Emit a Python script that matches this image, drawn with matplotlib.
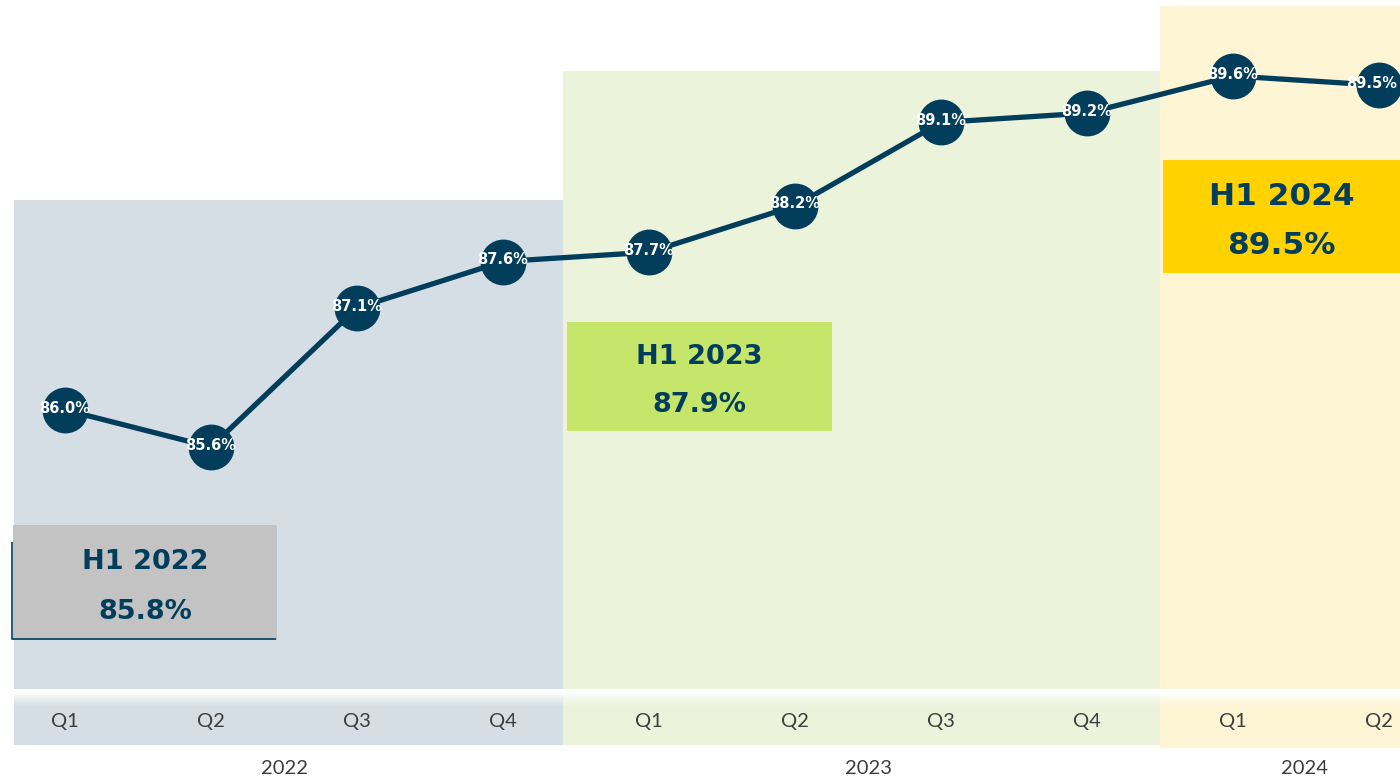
import numpy as np
import matplotlib.pyplot as plt
from matplotlib.patches import Rectangle
from matplotlib.colors import to_rgb

quarters = ["Q1", "Q2", "Q3", "Q4", "Q1", "Q2", "Q3", "Q4", "Q1", "Q2"]
rates = [86.0, 85.6, 87.1, 87.6, 87.7, 88.2, 89.1, 89.2, 89.6, 89.5]
years = ["2022", "2023", "2024"]
half_labels = ["H1 2022", "H1 2023", "H1 2024"]
half_values = [85.8, 87.9, 89.5]

NAVY = "#023e5c"
GREY_TXT = "#3d3d3d"
band_colors = ["#d5dee4", "#ebf3db", "#fef5d5"]
box_colors = ["#c3c3c3", "#c5e66a", "#ffd200"]

# pixel <-> data helpers (figure is 1400x779 px, one axes fills it)
X0, DX = 65.0, 146.0
Y0, V0, DY = 447.0, 85.6, 92.75


def px_x(p):
    return (p - X0) / DX


def px_y(p):
    return V0 + (Y0 - p) / DY


fig = plt.figure(figsize=(14, 7.79), dpi=100)
ax = fig.add_axes([0, 0, 1, 1])
ax.set_axis_off()

# year bands: (left px, right px, top px)
bands = [(14, 563, 200), (563, 1160, 71), (1160, 1400, 6)]
strip_bottom = [745, 745, 748]
plot_bottom = 689
strip_top = 703
for (l, r, t), sb, c in zip(bands, strip_bottom, band_colors):
    ax.add_patch(Rectangle((px_x(l), px_y(plot_bottom)), px_x(r) - px_x(l),
                           px_y(t) - px_y(plot_bottom), color=c, lw=0, zorder=0))
    ax.add_patch(Rectangle((px_x(l), px_y(sb)), px_x(r) - px_x(l),
                           px_y(strip_top) - px_y(sb), color=c, lw=0, zorder=0))
    # soft fade from the white gap into the strip
    rgb = np.array(to_rgb(c))
    t_ = np.linspace(0, 1, 40)[:, None] ** 0.8
    grad = (1 - t_) * np.ones(3) + t_ * rgb
    grad = np.concatenate([np.ones((8, 3)), grad])[:, None, :]
    ax.imshow(grad, extent=(px_x(l), px_x(r), px_y(strip_top + 4), px_y(plot_bottom + 1)),
              aspect="auto", zorder=0.5, interpolation="bilinear")

# summary boxes: (left, top, right, bottom) in px
boxes = [(13, 525, 277, 640), (567, 322, 832, 431), (1163, 160, 1400, 273)]
box_fs = [19.5, 19.5, 22.5]
for (l, t, r, b), c, lab, val, fs in zip(boxes, box_colors, half_labels, half_values, box_fs):
    ax.add_patch(Rectangle((px_x(l), px_y(b)), px_x(r) - px_x(l), px_y(t) - px_y(b),
                           color=c, lw=0, zorder=1))
    cx = px_x((l + r) / 2)
    h = b - t
    ax.text(cx, px_y(t + h * 0.32), lab, ha="center", va="center", fontsize=fs,
            fontweight="bold", color=NAVY, zorder=2)
    ax.text(cx, px_y(t + h * 0.76), f"{val:.1f}%", ha="center", va="center",
            fontsize=fs, fontweight="bold", color=NAVY, zorder=2)

# dark edge on the first box
ax.plot([px_x(11.5), px_x(11.5), px_x(276)], [px_y(542), px_y(639.5), px_y(639.5)],
        color=NAVY, lw=1.2, zorder=1.5, solid_capstyle="butt")

x = np.arange(len(rates))
ax.plot(x, rates, color=NAVY, lw=3.8, zorder=3, marker="o", markersize=33,
        markerfacecolor=NAVY, markeredgewidth=0)
for xi, v in zip(x, rates):
    # keep the last label inside the right edge
    xt = min(xi, px_x(1372))
    ax.text(xt, v + 0.02, f"{v:.1f}%", ha="center", va="center", fontsize=10.5,
            fontweight="bold", color="white", zorder=4)

for xi, q in zip(x, quarters):
    ax.text(xi, px_y(721), q, ha="center", va="center", fontsize=14.5,
            color=GREY_TXT, family=["Lato", "DejaVu Sans"], zorder=2)

year_px = [284, 868, 1305]
for xp, yr in zip(year_px, years):
    ax.text(px_x(xp), px_y(768), yr, ha="center", va="center", fontsize=14.5,
            color=GREY_TXT, family=["Lato", "DejaVu Sans"])

ax.set_xlim(px_x(0), px_x(1400))
ax.set_ylim(px_y(779), px_y(0))

fig.savefig("out.png", dpi=100)
